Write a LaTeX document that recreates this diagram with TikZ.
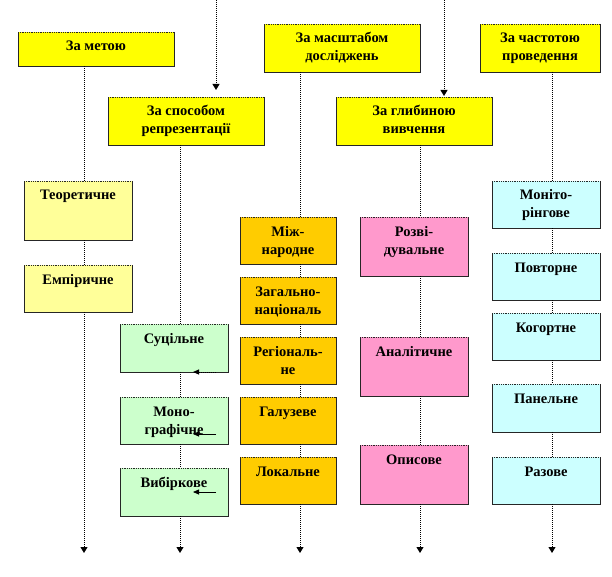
\documentclass[tikz,border=0pt]{standalone}
\usepackage{fontspec}
\setmainfont{Liberation Serif}
\usetikzlibrary{arrows.meta,calc}
\definecolor{cYel}{HTML}{FFFF00}
\definecolor{cLYel}{HTML}{FFFF99}
\definecolor{cGrn}{HTML}{CCFFCC}
\definecolor{cOrg}{HTML}{FFCC00}
\definecolor{cPnk}{HTML}{FF99CC}
\definecolor{cCyn}{HTML}{CCFFFF}
\tikzset{
  boxshape/.style={inner sep=0pt, outer sep=0pt, draw=none, anchor=north west},
  boxedge/.style={draw=black!85, line width=0.8pt},
  boxtop/.style={draw=black!85, line width=0.8pt, densely dotted},
  lbl/.style={inner sep=0pt, anchor=base, font=\bfseries\fontsize{14.5}{18}\selectfont},
  conn/.style={draw=black, line width=1pt, densely dotted},
  tip/.style={-{Triangle[width=7pt,length=6pt]}},
  smalltip/.style={-{Triangle[width=5pt,length=6pt]}}
}
\newcommand\mybox[7]{%
  \node[boxshape, fill=#6, minimum width={(#4-#2)*1pt}, minimum height={(#5-#3)*1pt}] (#1) at (#2,#3) {};
  \draw[boxedge] (#1.north east) -- (#1.south east) -- (#1.south west) -- (#1.north west);
  \draw[boxtop] (#1.north west) -- (#1.north east);
  \node[lbl] (#1t) at ([yshift=-19pt]#1.north) {\parbox[t]{120pt}{\centering #7}};
}
\begin{document}
\begin{tikzpicture}[x=1pt,y=-1pt]
\useasboundingbox (0,0) rectangle (612,577);
% column x positions
\coordinate (c1) at (84,0);
\coordinate (c2) at (180,0);
\coordinate (c3) at (300,0);
\coordinate (c4) at (420,0);
\coordinate (c5) at (552,0);
\coordinate (t1) at (216,0);
\coordinate (t2) at (444,0);
% headers
\mybox{h1}{18}{32}{174}{66}{cYel}{За метою}
\mybox{h2}{108}{97}{264}{145}{cYel}{За способом\\репрезентації}
\mybox{h3}{264}{24}{420}{72}{cYel}{За масштабом\\досліджень}
\mybox{h4}{336}{97}{492}{145}{cYel}{За глибиною\\вивчення}
\mybox{h5}{480}{24}{600}{72}{cYel}{За частотою\\проведення}
% column 1
\mybox{a1}{24}{181}{132}{240}{cLYel}{Теоретичне}
\mybox{a2}{24}{265}{132}{312}{cLYel}{Емпіричне}
% column 2
\mybox{b1}{120}{324}{228}{372}{cGrn}{Суцільне}
\mybox{b2}{120}{397}{228}{444}{cGrn}{Моно-\\графічне}
\mybox{b3}{120}{468}{228}{516}{cGrn}{Вибіркове}
% column 3
\mybox{d1}{240}{217}{336}{264}{cOrg}{Між-\\народне}
\mybox{d2}{240}{277}{336}{324}{cOrg}{Загально-\\національ}
\mybox{d3}{240}{337}{336}{384}{cOrg}{Регіональ-\\не}
\mybox{d4}{240}{397}{336}{444}{cOrg}{Галузеве}
\mybox{d5}{240}{457}{336}{504}{cOrg}{Локальне}
% column 4
\mybox{e1}{360}{217}{468}{276}{cPnk}{Розві-\\дувальне}
\mybox{e2}{360}{337}{468}{396}{cPnk}{Аналітичне}
\mybox{e3}{360}{445}{468}{504}{cPnk}{Описове}
% column 5
\mybox{f1}{492}{181}{600}{228}{cCyn}{Моніто-\\рінгове}
\mybox{f2}{492}{253}{600}{300}{cCyn}{Повторне}
\mybox{f3}{492}{313}{600}{360}{cCyn}{Когортне}
\mybox{f4}{492}{384}{600}{432}{cCyn}{Панельне}
\mybox{f5}{492}{457}{600}{504}{cCyn}{Разове}
% end coordinates
\coordinate (z1) at (84,553);
\coordinate (z2) at (180,553);
\coordinate (z3) at (300,553);
\coordinate (z4) at (420,553);
\coordinate (z5) at (552,553);
% top incoming arrows
\draw[conn,tip,shorten >=7pt] (t1) -- (h2.north -| t1);
\draw[conn,tip,shorten >=1pt] (t2) -- (h4.north -| t2);
% column 1
\draw[conn] (h1.south -| c1) -- (a1.north -| c1);
\draw[conn] (a1.south -| c1) -- (a2.north -| c1);
\draw[conn,tip] (a2.south -| c1) -- (z1);
% column 2
\draw[conn] (h2.south -| c2) -- (b1.north -| c2);
\draw[conn] (b1.south -| c2) -- (b2.north -| c2);
\draw[conn] (b2.south -| c2) -- (b3.north -| c2);
\draw[conn,tip] (b3.south -| c2) -- (z2);
% column 3
\draw[conn] (h3.south -| c3) -- (d1.north -| c3);
\draw[conn] (d1.south -| c3) -- (d2.north -| c3);
\draw[conn] (d2.south -| c3) -- (d3.north -| c3);
\draw[conn] (d3.south -| c3) -- (d4.north -| c3);
\draw[conn] (d4.south -| c3) -- (d5.north -| c3);
\draw[conn,tip] (d5.south -| c3) -- (z3);
% column 4
\draw[conn] (h4.south -| c4) -- (e1.north -| c4);
\draw[conn] (e1.south -| c4) -- (e2.north -| c4);
\draw[conn] (e2.south -| c4) -- (e3.north -| c4);
\draw[conn,tip] (e3.south -| c4) -- (z4);
% column 5
\draw[conn] (h5.south -| c5) -- (f1.north -| c5);
\draw[conn] (f1.south -| c5) -- (f2.north -| c5);
\draw[conn] (f2.south -| c5) -- (f3.north -| c5);
\draw[conn] (f3.south -| c5) -- (f4.north -| c5);
\draw[conn] (f4.south -| c5) -- (f5.north -| c5);
\draw[conn,tip] (f5.south -| c5) -- (z5);
% small arrows in green boxes
\coordinate (s1a) at (216,372); \coordinate (s1b) at (193,372);
\coordinate (s2a) at (216,434); \coordinate (s2b) at (193,434);
\coordinate (s3a) at (216,492); \coordinate (s3b) at (193,492);
\draw[conn,smalltip] (s1a) -- (s1b);
\draw[line width=0.8pt,smalltip] (s2a) -- (s2b);
\draw[line width=0.8pt,smalltip] (s3a) -- (s3b);
\end{tikzpicture}
\end{document}
